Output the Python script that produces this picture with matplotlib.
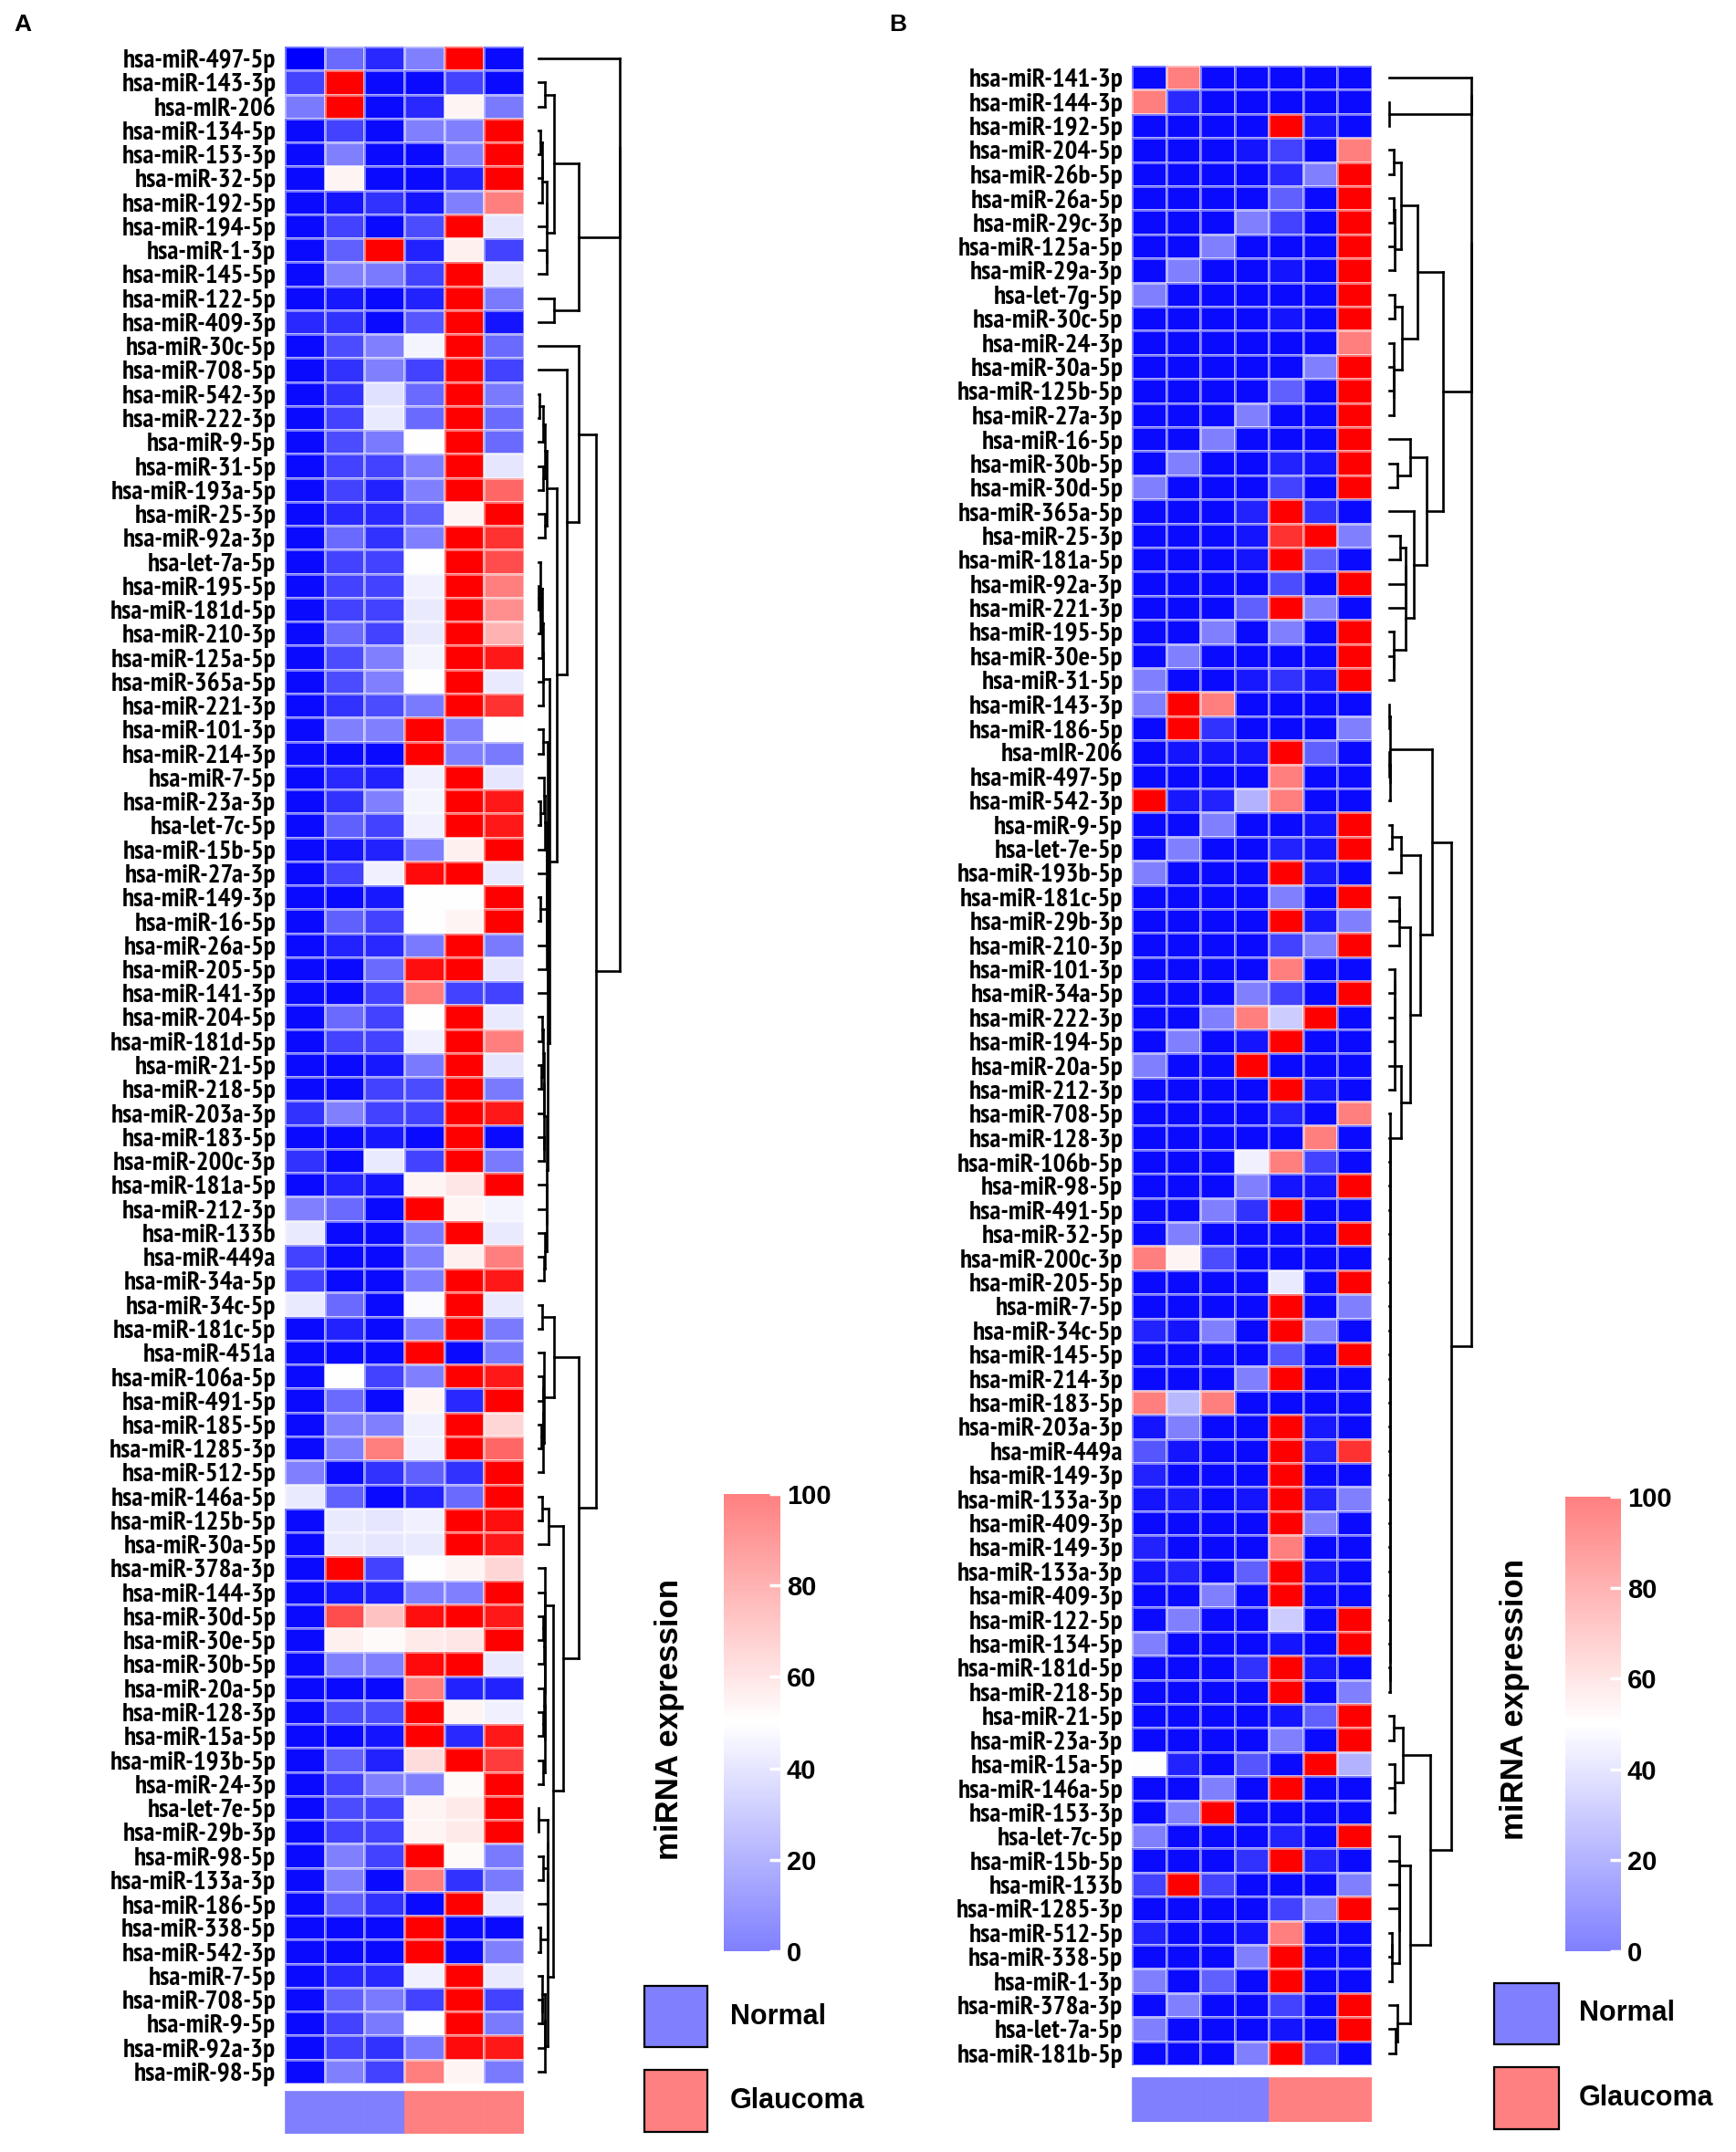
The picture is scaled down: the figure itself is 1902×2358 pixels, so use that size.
import numpy as np
import matplotlib
matplotlib.use('Agg')
import matplotlib.pyplot as plt
from matplotlib.colors import LinearSegmentedColormap, ListedColormap, Normalize
from matplotlib.patches import Rectangle
import matplotlib.cm as cm

# ---------------- data ----------------
A_labels = ['hsa-miR-497-5p', 'hsa-miR-143-3p', 'hsa-mIR-206', 'hsa-miR-134-5p', 'hsa-miR-153-3p',
            'hsa-miR-32-5p', 'hsa-miR-192-5p', 'hsa-miR-194-5p', 'hsa-miR-1-3p', 'hsa-miR-145-5p',
            'hsa-miR-122-5p', 'hsa-miR-409-3p', 'hsa-miR-30c-5p', 'hsa-miR-708-5p', 'hsa-miR-542-3p',
            'hsa-miR-222-3p', 'hsa-miR-9-5p', 'hsa-miR-31-5p', 'hsa-miR-193a-5p', 'hsa-miR-25-3p',
            'hsa-miR-92a-3p', 'hsa-let-7a-5p', 'hsa-miR-195-5p', 'hsa-miR-181d-5p', 'hsa-miR-210-3p',
            'hsa-miR-125a-5p', 'hsa-miR-365a-5p', 'hsa-miR-221-3p', 'hsa-miR-101-3p', 'hsa-miR-214-3p',
            'hsa-miR-7-5p', 'hsa-miR-23a-3p', 'hsa-let-7c-5p', 'hsa-miR-15b-5p', 'hsa-miR-27a-3p',
            'hsa-miR-149-3p', 'hsa-miR-16-5p', 'hsa-miR-26a-5p', 'hsa-miR-205-5p', 'hsa-miR-141-3p',
            'hsa-miR-204-5p', 'hsa-miR-181d-5p', 'hsa-miR-21-5p', 'hsa-miR-218-5p', 'hsa-miR-203a-3p',
            'hsa-miR-183-5p', 'hsa-miR-200c-3p', 'hsa-miR-181a-5p', 'hsa-miR-212-3p', 'hsa-miR-133b',
            'hsa-miR-449a', 'hsa-miR-34a-5p', 'hsa-miR-34c-5p', 'hsa-miR-181c-5p', 'hsa-miR-451a',
            'hsa-miR-106a-5p', 'hsa-miR-491-5p', 'hsa-miR-185-5p', 'hsa-miR-1285-3p', 'hsa-miR-512-5p',
            'hsa-miR-146a-5p', 'hsa-miR-125b-5p', 'hsa-miR-30a-5p', 'hsa-miR-378a-3p', 'hsa-miR-144-3p',
            'hsa-miR-30d-5p', 'hsa-miR-30e-5p', 'hsa-miR-30b-5p', 'hsa-miR-20a-5p', 'hsa-miR-128-3p',
            'hsa-miR-15a-5p', 'hsa-miR-193b-5p', 'hsa-miR-24-3p', 'hsa-let-7e-5p', 'hsa-miR-29b-3p',
            'hsa-miR-98-5p', 'hsa-miR-133a-3p', 'hsa-miR-186-5p', 'hsa-miR-338-5p', 'hsa-miR-542-3p',
            'hsa-miR-7-5p', 'hsa-miR-708-5p', 'hsa-miR-9-5p', 'hsa-miR-92a-3p', 'hsa-miR-98-5p']

A_values = [
    [0, 21, 8, 25, 100, 2], [13, 100, 2, 2, 13, 2], [24, 100, 2, 8, 52, 24], [2, 13, 2, 25, 25, 100],
    [2, 25, 2, 2, 25, 100], [2, 52, 2, 2, 7, 100], [2, 4, 10, 4, 25, 75], [2, 13, 2, 15, 100, 45],
    [2, 19, 100, 7, 53, 13], [2, 25, 24, 13, 100, 45], [2, 5, 2, 7, 100, 24], [8, 10, 2, 17, 100, 4],
    [2, 15, 25, 48, 100, 21], [2, 10, 25, 13, 100, 13], [2, 10, 44, 21, 100, 24], [2, 13, 46, 21, 100, 21],
    [2, 15, 24, 50, 100, 21], [2, 13, 13, 25, 100, 45], [2, 13, 7, 25, 100, 80], [2, 8, 8, 19, 52, 100],
    [2, 21, 10, 25, 100, 90], [2, 13, 13, 50, 100, 85], [2, 13, 13, 47, 100, 75], [2, 13, 13, 46, 100, 72],
    [2, 21, 13, 46, 100, 65], [2, 15, 25, 48, 100, 95], [2, 15, 25, 50, 100, 46], [2, 10, 15, 24, 100, 90],
    [2, 25, 25, 100, 25, 50], [2, 2, 2, 100, 25, 24], [2, 8, 7, 47, 100, 45], [2, 10, 25, 48, 100, 95],
    [2, 19, 13, 47, 100, 95], [2, 4, 7, 25, 53, 100], [2, 13, 47, 98, 100, 46], [2, 2, 5, 50, 50, 100],
    [2, 19, 13, 50, 52, 100], [2, 7, 8, 24, 100, 24], [2, 2, 21, 97, 100, 45], [2, 2, 13, 75, 13, 13],
    [2, 21, 13, 50, 100, 46], [2, 13, 13, 47, 100, 75], [2, 2, 5, 24, 100, 45], [2, 2, 13, 15, 100, 24],
    [10, 25, 13, 13, 100, 95], [2, 2, 5, 2, 100, 2], [10, 2, 46, 13, 100, 24], [2, 7, 4, 52, 55, 100],
    [25, 21, 2, 100, 52, 48], [46, 2, 2, 24, 100, 46], [13, 2, 2, 25, 53, 75], [13, 2, 2, 25, 100, 95],
    [46, 21, 2, 49, 100, 46], [2, 7, 2, 25, 100, 24], [2, 2, 2, 100, 2, 24], [2, 50, 13, 25, 100, 95],
    [2, 21, 2, 52, 8, 100], [2, 25, 25, 47, 100, 58], [2, 25, 75, 47, 100, 80], [25, 2, 10, 19, 10, 100],
    [46, 19, 2, 7, 21, 100], [2, 46, 45, 47, 100, 97], [2, 46, 45, 46, 100, 95], [2, 100, 13, 50, 52, 58],
    [2, 5, 7, 25, 25, 100], [2, 85, 62, 97, 100, 95], [2, 53, 51, 54, 55, 100], [2, 25, 25, 98, 100, 46],
    [2, 2, 2, 75, 7, 7], [2, 15, 15, 100, 52, 47], [2, 2, 4, 100, 8, 95], [2, 19, 7, 57, 100, 88],
    [2, 13, 25, 25, 51, 100], [2, 15, 13, 52, 54, 100], [2, 13, 13, 52, 54, 100], [2, 25, 13, 100, 51, 24],
    [2, 25, 2, 75, 10, 24], [2, 19, 10, 2, 100, 46], [2, 2, 2, 100, 2, 2], [2, 2, 2, 100, 2, 25],
    [2, 8, 8, 47, 100, 46], [2, 19, 24, 13, 100, 13], [2, 13, 24, 50, 100, 24], [2, 13, 10, 24, 98, 95],
    [2, 25, 13, 75, 52, 24]]
A_groups = ['Normal', 'Normal', 'Normal', 'Glaucoma', 'Glaucoma', 'Glaucoma']

B_labels = ['hsa-miR-141-3p', 'hsa-miR-144-3p', 'hsa-miR-192-5p', 'hsa-miR-204-5p', 'hsa-miR-26b-5p',
            'hsa-miR-26a-5p', 'hsa-miR-29c-3p', 'hsa-miR-125a-5p', 'hsa-miR-29a-3p', 'hsa-let-7g-5p',
            'hsa-miR-30c-5p', 'hsa-miR-24-3p', 'hsa-miR-30a-5p', 'hsa-miR-125b-5p', 'hsa-miR-27a-3p',
            'hsa-miR-16-5p', 'hsa-miR-30b-5p', 'hsa-miR-30d-5p', 'hsa-miR-365a-5p', 'hsa-miR-25-3p',
            'hsa-miR-181a-5p', 'hsa-miR-92a-3p', 'hsa-miR-221-3p', 'hsa-miR-195-5p', 'hsa-miR-30e-5p',
            'hsa-miR-31-5p', 'hsa-miR-143-3p', 'hsa-miR-186-5p', 'hsa-mIR-206', 'hsa-miR-497-5p',
            'hsa-miR-542-3p', 'hsa-miR-9-5p', 'hsa-let-7e-5p', 'hsa-miR-193b-5p', 'hsa-miR-181c-5p',
            'hsa-miR-29b-3p', 'hsa-miR-210-3p', 'hsa-miR-101-3p', 'hsa-miR-34a-5p', 'hsa-miR-222-3p',
            'hsa-miR-194-5p', 'hsa-miR-20a-5p', 'hsa-miR-212-3p', 'hsa-miR-708-5p', 'hsa-miR-128-3p',
            'hsa-miR-106b-5p', 'hsa-miR-98-5p', 'hsa-miR-491-5p', 'hsa-miR-32-5p', 'hsa-miR-200c-3p',
            'hsa-miR-205-5p', 'hsa-miR-7-5p', 'hsa-miR-34c-5p', 'hsa-miR-145-5p', 'hsa-miR-214-3p',
            'hsa-miR-183-5p', 'hsa-miR-203a-3p', 'hsa-miR-449a', 'hsa-miR-149-3p', 'hsa-miR-133a-3p',
            'hsa-miR-409-3p', 'hsa-miR-149-3p', 'hsa-miR-133a-3p', 'hsa-miR-409-3p', 'hsa-miR-122-5p',
            'hsa-miR-134-5p', 'hsa-miR-181d-5p', 'hsa-miR-218-5p', 'hsa-miR-21-5p', 'hsa-miR-23a-3p',
            'hsa-miR-15a-5p', 'hsa-miR-146a-5p', 'hsa-miR-153-3p', 'hsa-let-7c-5p', 'hsa-miR-15b-5p',
            'hsa-miR-133b', 'hsa-miR-1285-3p', 'hsa-miR-512-5p', 'hsa-miR-338-5p', 'hsa-miR-1-3p',
            'hsa-miR-378a-3p', 'hsa-let-7a-5p', 'hsa-miR-181b-5p']

B_values = [
    [2, 75, 2, 2, 2, 2, 2], [75, 8, 2, 2, 2, 2, 2], [2, 2, 2, 2, 100, 4, 2], [2, 2, 2, 4, 13, 2, 75],
    [2, 2, 2, 2, 8, 25, 100], [2, 2, 2, 2, 19, 2, 100], [2, 2, 2, 25, 13, 2, 100], [2, 2, 25, 2, 2, 2, 100],
    [2, 25, 2, 2, 4, 2, 100], [25, 2, 2, 2, 2, 2, 100], [2, 2, 2, 2, 4, 2, 100], [2, 2, 2, 2, 2, 2, 75],
    [2, 2, 2, 2, 2, 25, 100], [2, 2, 2, 2, 19, 2, 100], [2, 2, 2, 25, 2, 2, 100], [2, 2, 25, 2, 2, 2, 100],
    [2, 25, 2, 2, 7, 4, 100], [25, 2, 2, 2, 13, 2, 100], [2, 2, 2, 7, 100, 10, 2], [2, 2, 2, 4, 90, 100, 25],
    [2, 2, 2, 4, 100, 19, 2], [2, 2, 2, 2, 15, 2, 100], [2, 2, 2, 19, 100, 25, 2], [2, 2, 25, 2, 25, 2, 100],
    [2, 25, 2, 2, 2, 2, 100], [25, 2, 2, 5, 10, 5, 100], [25, 100, 75, 2, 2, 2, 2], [2, 100, 10, 2, 2, 2, 25],
    [2, 4, 4, 4, 100, 19, 2], [2, 2, 2, 2, 75, 2, 2], [100, 5, 7, 35, 75, 2, 2], [2, 2, 25, 2, 2, 4, 100],
    [2, 25, 2, 2, 7, 4, 100], [25, 2, 2, 2, 100, 5, 2], [2, 2, 2, 2, 25, 2, 100], [2, 2, 2, 2, 100, 5, 25],
    [2, 2, 2, 2, 13, 25, 100], [2, 2, 2, 2, 75, 2, 2], [2, 2, 2, 25, 13, 2, 100], [2, 2, 25, 75, 40, 100, 2],
    [2, 25, 2, 4, 100, 2, 2], [25, 2, 2, 100, 2, 2, 2], [2, 2, 2, 2, 100, 4, 2], [2, 2, 2, 2, 7, 2, 75],
    [2, 2, 2, 2, 2, 75, 2], [2, 2, 2, 47, 75, 13, 2], [2, 2, 2, 25, 4, 4, 100], [2, 2, 25, 10, 100, 2, 2],
    [2, 25, 2, 2, 2, 2, 100], [75, 52, 15, 2, 2, 2, 2], [2, 2, 2, 2, 46, 2, 100], [2, 2, 2, 2, 100, 2, 25],
    [7, 4, 25, 2, 100, 25, 2], [2, 2, 2, 2, 17, 2, 100], [2, 2, 2, 25, 100, 2, 2], [75, 36, 75, 2, 2, 2, 2],
    [4, 25, 2, 2, 100, 5, 2], [17, 4, 2, 2, 100, 7, 90], [7, 2, 2, 2, 100, 2, 2], [4, 5, 2, 4, 100, 7, 25],
    [2, 2, 2, 2, 100, 25, 2], [7, 2, 2, 2, 75, 2, 2], [4, 7, 2, 19, 100, 5, 2], [2, 2, 25, 2, 100, 2, 2],
    [2, 25, 2, 2, 40, 2, 100], [25, 2, 2, 2, 4, 2, 100], [2, 2, 2, 10, 100, 5, 2], [2, 2, 2, 2, 100, 2, 25],
    [2, 2, 2, 2, 4, 19, 100], [2, 2, 2, 2, 25, 2, 100], [50, 7, 2, 17, 2, 100, 35], [2, 2, 25, 2, 100, 2, 2],
    [2, 25, 100, 2, 2, 2, 2], [25, 2, 2, 2, 7, 2, 100], [2, 2, 2, 10, 100, 7, 2], [13, 100, 13, 2, 2, 2, 25],
    [2, 2, 2, 2, 13, 25, 100], [7, 2, 2, 4, 75, 2, 2], [2, 2, 2, 25, 100, 2, 2], [25, 2, 19, 2, 100, 2, 2],
    [2, 25, 2, 2, 13, 2, 100], [25, 2, 2, 2, 4, 2, 100], [2, 2, 2, 25, 100, 13, 2]]
B_groups = ['Normal', 'Normal', 'Normal', 'Normal', 'Glaucoma', 'Glaucoma', 'Glaucoma']

group_colors = {'Normal': '#8080ff', 'Glaucoma': '#ff8080'}
cbar_ticks = [0, 20, 40, 60, 80, 100]


# dendrogram layout: [height, child, child], ints are rows,
# ('b', first, last, hmax) is a small block clustered from the rows themselves,
# ('c', first, last, h) is a flat chain of rows
def blk(s, e, h):
    return ('b', s, e, h)


def chain(s, e, h):
    return ('c', s, e, h)


A_tree = [1.0, [1.0, 0, [0.49, [0.195, [0.075, 1, 2], blk(3, 9, 0.1)], [0.195, 10, 11]]],
          [0.71, [0.49, 12, [0.345, 13, [0.225, blk(14, 20, 0.1),
                                         [0.14, blk(21, 27, 0.06), blk(28, 51, 0.11)]]]],
           [0.49, [0.195, blk(52, 53, 0.045), blk(54, 59, 0.065)],
            [0.3, [0.12, blk(60, 61, 0.045), 62], [0.175, blk(63, 72, 0.075), blk(73, 84, 0.11)]]]]]

B_tree = [1.0, [1.0, [1.0, 0, blk(1, 2, 0.004)],
                [0.655, [0.34, [0.14, blk(3, 4, 0.05), blk(5, 8, 0.07)],
                         [0.155, blk(9, 10, 0.07), blk(11, 14, 0.06)]],
                 [0.45, [0.25, 15, blk(16, 17, 0.1)], [0.3, 18, blk(19, 25, 0.2)]]]],
          [0.76, [0.52, blk(26, 30, 0.01),
                  [0.38, blk(31, 33, 0.145),
                   [0.26, blk(34, 36, 0.12), [0.14, blk(37, 42, 0.07), chain(43, 67, 0.012)]]]],
           [0.5, [0.17, blk(68, 69, 0.06), blk(70, 72, 0.07)],
            [0.26, blk(73, 79, 0.12), [0.1, 80, blk(81, 82, 0.08)]]]]]

# ---------------- helpers ----------------
W, H = 1902, 2358


def px_rect(x0, y0, x1, y1):
    return [x0 / W, 1 - y1 / H, (x1 - x0) / W, (y1 - y0) / H]


def cluster_block(vals, s, e, hmax):
    # merge neighbouring rows only, so the order of the heatmap is kept
    if s == e:
        return s
    cl = [(np.array(vals[i], float), 1, i, 0.0) for i in range(s, e + 1)]
    while len(cl) > 1:
        d = [np.linalg.norm(cl[k][0] - cl[k + 1][0]) for k in range(len(cl) - 1)]
        k = int(np.argmin(d))
        a, b = cl[k], cl[k + 1]
        h = max(d[k], a[3], b[3])
        cen = (a[0] * a[1] + b[0] * b[1]) / (a[1] + b[1])
        cl[k:k + 2] = [(cen, a[1] + b[1], [h, a[2], b[2]], h)]
    top = cl[0][2]
    scale = hmax / top[0] if top[0] > 0 else 0

    def rescale(n):
        if isinstance(n, int):
            return n
        return [n[0] * scale if scale else hmax] + [rescale(c) for c in n[1:]]
    return rescale(top)


def expand(node, vals):
    if isinstance(node, int):
        return node
    if isinstance(node, tuple):
        if node[0] == 'b':
            return cluster_block(vals, node[1], node[2], node[3])
        s, e, h = node[1], node[2], node[3]
        out = e
        for i in range(e - 1, s - 1, -1):
            out = [h, i, out]
        return out
    return [node[0]] + [expand(c, vals) for c in node[1:]]


def draw_tree(ax, node):
    if isinstance(node, int):
        return node + 0.5, 0.0
    hh = node[0]
    pts = [draw_tree(ax, c) for c in node[1:]]
    ys = [p[0] for p in pts]
    for y, h in pts:
        ax.plot([h, hh], [y, y], color='black', lw=1.9, solid_capstyle='projecting', clip_on=False)
    ax.plot([hh, hh], [min(ys), max(ys)], color='black', lw=1.9, solid_capstyle='projecting', clip_on=False)
    return (min(ys) + max(ys)) / 2, hh


cmap = LinearSegmentedColormap.from_list('hm', ['#0000ff', '#ffffff', '#ff0000'])
cmap_light = ListedColormap(cmap(np.linspace(0, 1, 256))[:, :3] * 0.5 + 0.5)
norm = Normalize(0, 100)

label_font = ['PT Sans Narrow', 'Roboto Condensed', 'Liberation Sans', 'DejaVu Sans']
main_font = ['Liberation Sans', 'DejaVu Sans']


def panel(fig, labels, values, groups, tree, hm, bar, dend, cb, cb_label, leg):
    data = np.array(values, float)
    nrow, ncol = data.shape

    ax = fig.add_axes(px_rect(*hm))
    ax.pcolormesh(np.arange(ncol + 1), np.arange(nrow + 1), data, cmap=cmap, norm=norm,
                  edgecolors=(1, 1, 1, 0.45), linewidth=0.8)
    ax.set_xlim(0, ncol)
    ax.set_ylim(nrow, 0)
    ax.set_xticks([])
    ax.set_yticks(np.arange(nrow) + 0.5)
    ax.set_yticklabels(labels, fontsize=21, fontweight='bold', family=label_font)
    ax.tick_params(axis='y', length=0, pad=7)
    for sp in ax.spines.values():
        sp.set_visible(False)

    # group bar under the heatmap
    bx = fig.add_axes(px_rect(*bar))
    for j, g in enumerate(groups):
        bx.add_patch(Rectangle((j, 0), 1, 1, facecolor=group_colors[g], edgecolor=group_colors[g], lw=0.5))
    bx.set_xlim(0, ncol)
    bx.set_ylim(0, 1)
    bx.axis('off')

    # dendrogram
    dx = fig.add_axes(px_rect(*dend))
    draw_tree(dx, expand(tree, values))
    dx.set_xlim(0, 1)
    dx.set_ylim(nrow, 0)
    dx.axis('off')

    # colour bar
    cax = fig.add_axes(px_rect(*cb))
    cbar = fig.colorbar(cm.ScalarMappable(norm=norm, cmap=cmap_light), cax=cax, ticks=cbar_ticks)
    cbar.outline.set_visible(False)
    cax.tick_params(direction='in', color='white', length=9, width=2.5, pad=5)
    for t in cax.get_yticklabels():
        t.set_fontsize(21)
        t.set_fontweight('bold')
        t.set_family(main_font)
    fig.text(cb_label[0] / W, 1 - cb_label[1] / H, 'miRNA expression', rotation=90,
             ha='center', va='center', fontsize=25, fontweight='bold', family=main_font)

    # legend
    x0, x1, ys, tx = leg
    for (y0, y1), name in zip(ys, ['Normal', 'Glaucoma']):
        fig.add_artist(Rectangle((x0 / W, 1 - y1 / H), (x1 - x0) / W, (y1 - y0) / H,
                                 transform=fig.transFigure, facecolor=group_colors[name],
                                 edgecolor='black', lw=1.6))
        fig.text(tx / W, 1 - (y0 + y1) / 2 / H, name, ha='left', va='center',
                 fontsize=22, fontweight='bold', family=main_font)


fig = plt.figure(figsize=(W / 100, H / 100), dpi=100)

panel(fig, A_labels, A_values, A_groups, A_tree,
      hm=(312, 51, 574, 2283), bar=(312, 2291, 574, 2338), dend=(590, 51, 679, 2283),
      cb=(793, 1637, 855, 2138), cb_label=(733, 1884),
      leg=(706, 775, [(2176, 2243), (2268, 2336)], 800))

panel(fig, B_labels, B_values, B_groups, B_tree,
      hm=(1240, 72, 1503, 2263), bar=(1240, 2276, 1503, 2325), dend=(1522, 72, 1612, 2263),
      cb=(1715, 1640, 1776, 2138), cb_label=(1660, 1862),
      leg=(1637, 1708, [(2173, 2240), (2265, 2333)], 1730))

fig.text(25 / W, 1 - 27 / H, 'A', ha='center', va='center', fontsize=19, fontweight='bold', family=main_font)
fig.text(984 / W, 1 - 27 / H, 'B', ha='center', va='center', fontsize=19, fontweight='bold', family=main_font)

fig.savefig('out.png', dpi=100)
